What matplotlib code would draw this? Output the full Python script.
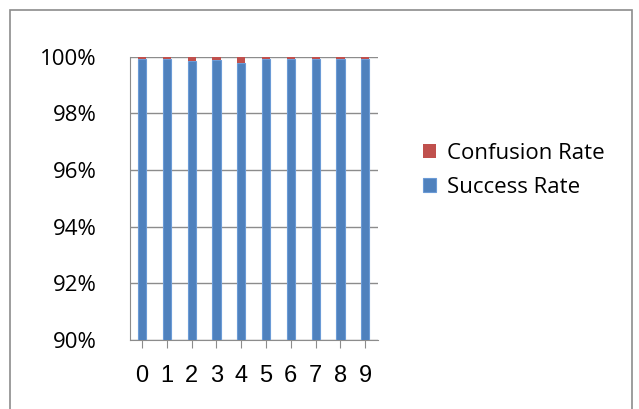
import numpy as np
import matplotlib.pyplot as plt
from matplotlib.patches import Rectangle
from matplotlib.ticker import FuncFormatter

digits = ['0', '1', '2', '3', '4', '5', '6', '7', '8', '9']
success = [99.93, 99.93, 99.86, 99.9, 99.79, 99.93, 99.93, 99.93, 99.93, 99.93]
confusion = [100 - s for s in success]

plt.rcParams['font.family'] = ['Open Sans', 'DejaVu Sans']

fig = plt.figure(figsize=(6.39, 4.09), dpi=100)
fig.patches.append(Rectangle((0.016, -0.1), 0.973, 1.075, transform=fig.transFigure,
                             fill=False, edgecolor='#8c8c8c', linewidth=1.2))
ax = fig.add_axes([0.203, 0.169, 0.388, 0.692])

x = np.arange(len(digits))
ax.bar(x, success, width=0.33, color='#4F81BD', edgecolor='#6b9bd6', linewidth=0.8,
       label='Success Rate', zorder=3)
ax.bar(x, confusion, width=0.33, bottom=success, color='#C0504D', linewidth=0,
       label='Confusion Rate', zorder=3)

ax.set_ylim(90, 100)
ax.set_xlim(-0.5, 9.5)
ax.set_yticks(np.arange(90, 100.1, 2))
ax.yaxis.set_major_formatter(FuncFormatter(lambda v, p: f'{v:.0f}%'))
ax.set_xticks(x)
ax.set_xticklabels(digits, family=['Liberation Sans', 'DejaVu Sans'])
ax.grid(axis='y', color='#8c8c8c', linewidth=1, zorder=0)
for s in ['top', 'right']:
    ax.spines[s].set_visible(False)
ax.spines['left'].set_color('#8c8c8c')
ax.spines['bottom'].set_color('#8c8c8c')
ax.tick_params(axis='y', length=0, labelsize=16, pad=24)
ax.tick_params(axis='x', length=6, color='#8c8c8c', labelsize=17, pad=12)

h, l = ax.get_legend_handles_labels()
fig.legend(h[::-1], l[::-1], loc='upper left', bbox_to_anchor=(0.63, 0.7),
           frameon=False, fontsize=16, handlelength=0.6, handleheight=0.6,
           handletextpad=0.5, labelspacing=0.6)

fig.savefig('out.png', dpi=100)
